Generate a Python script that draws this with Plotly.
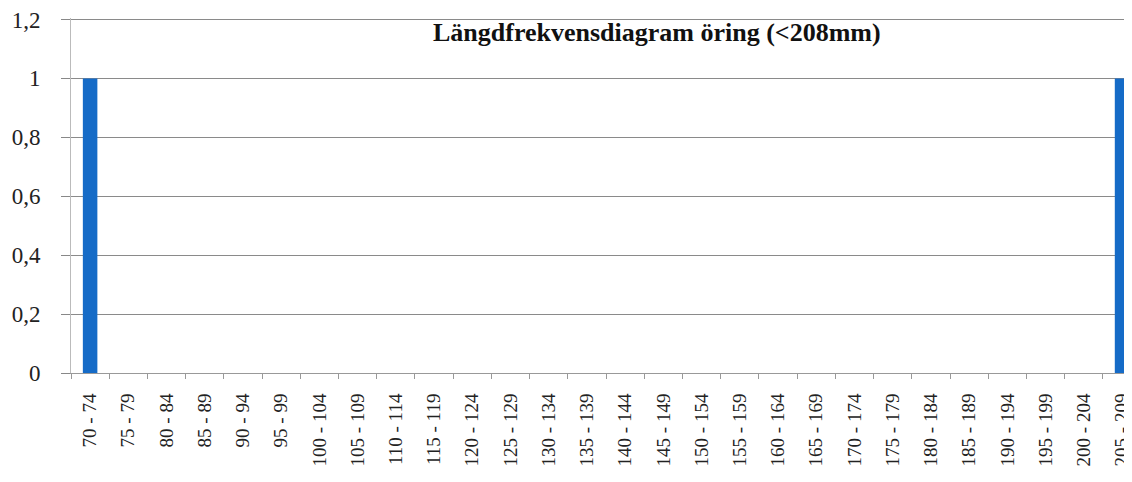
import plotly.graph_objects as go

# length classes (mm) and number of fish
klasser = [f"{s} - {s + 4}" for s in range(70, 210, 5)]
antal = [1] + [0] * 26 + [1]

fig = go.Figure()
fig.add_trace(go.Bar(x=klasser, y=antal, width=0.38,
                     marker=dict(color="#156bc7", line=dict(width=0))))

# page body has an 8px margin, so the figure is a bit smaller than the window
fig.update_layout(
    width=1124, height=474,
    margin=dict(l=63, r=0, t=10, b=109, autoexpand=False),
    paper_bgcolor="white", plot_bgcolor="white",
    separators=",.",
    showlegend=False,
    font=dict(family="Liberation Serif", color="#222"),
)
fig.add_annotation(text="<b>Längdfrekvensdiagram öring (<208mm)</b>",
                   xref="paper", yref="paper", x=0.552, y=0.96,
                   xanchor="center", yanchor="middle", showarrow=False,
                   font=dict(family="Liberation Serif", size=26, color="#111"))
fig.update_xaxes(
    type="category", range=[-0.5, 27.26], automargin=False,
    tickangle=-90, tickson="boundaries", ticks="outside", ticklen=5,
    ticklabelstandoff=12,
    tickcolor="#999", showline=True, linecolor="#999", linewidth=1,
    showgrid=False, tickfont=dict(size=19, family="Liberation Serif", color="#222"),
)
fig.update_yaxes(
    range=[0, 1.205], tickvals=[0, 0.2, 0.4, 0.6, 0.8, 1, 1.2],
    tickformat=".1~f", automargin=False, ticklabeloverflow="allow",
    ticks="outside", ticklen=9, tickcolor="#888", ticklabelstandoff=16,
    showline=True, linecolor="#bbb", linewidth=1,
    showgrid=True, gridcolor="#8a8a8a", gridwidth=1, zeroline=False,
    tickfont=dict(size=23, family="Liberation Serif", color="#222"),
)

fig.write_html("out.html")
